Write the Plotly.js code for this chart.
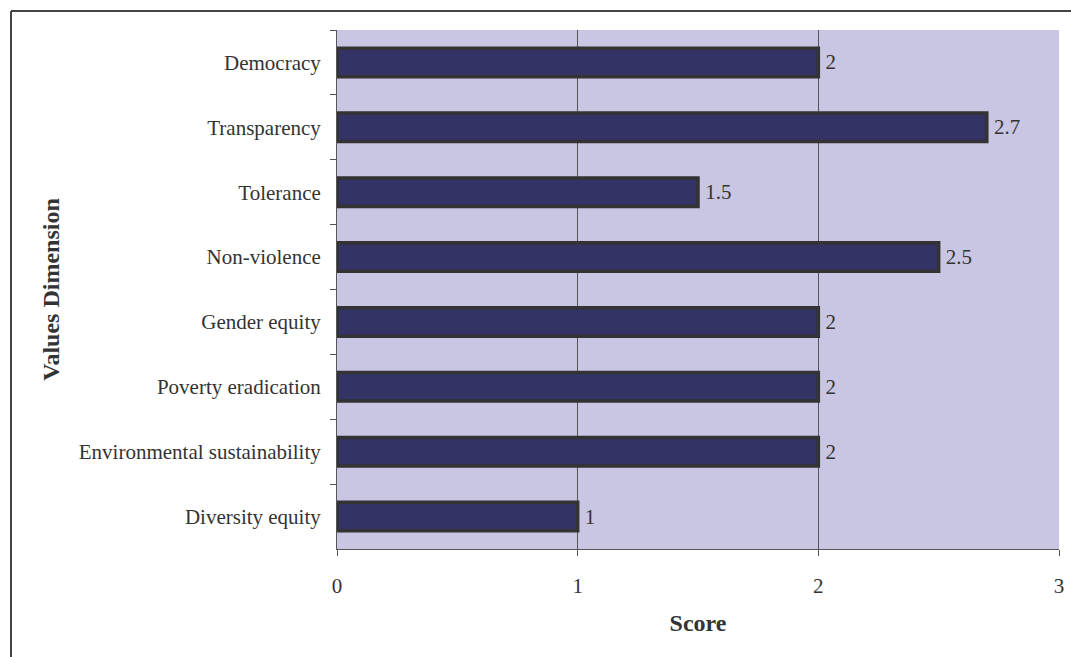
<!DOCTYPE html>
<html>
<head>
<meta charset="utf-8">
<script src="https://cdn.plot.ly/plotly-3.0.1.min.js"></script>
<style>
  html, body { margin: 0; padding: 0; background: #fff; }
  #chart { width: 1071px; height: 657px; }
</style>
</head>
<body>
<div id="chart"></div>
<script>
// Values dimension scores, listed top to bottom
const dimensions = [
  "Democracy",
  "Transparency",
  "Tolerance",
  "Non-violence",
  "Gender equity",
  "Poverty eradication",
  "Environmental sustainability",
  "Diversity equity"
];
const scores = [2, 2.7, 1.5, 2.5, 2, 2, 2, 1];
const xTicks = [0, 1, 2, 3];

const W = 1071, H = 657;
const margin = { l: 337, r: 12, t: 30, b: 108, pad: 0 };
const plotW = W - margin.l - margin.r;
const plotH = H - margin.t - margin.b;
// pixel -> paper helpers for the outer frame
const px = v => (v - margin.l) / plotW;
const py = v => 1 - (v - margin.t) / plotH;

const serif = "Liberation Serif, Times New Roman, serif";

const trace = {
  type: "bar",
  orientation: "h",
  y: dimensions,
  x: scores,
  // thin space keeps the value label a little off the bar end
  text: scores.map(v => "\u2009" + v),
  textposition: "outside",
  cliponaxis: false,
  textfont: { family: serif, size: 21, color: "#333333" },
  marker: { color: "#333366", line: { color: "#333333", width: 3.5 } },
  hoverinfo: "x+y"
};

const layout = {
  width: W,
  height: H,
  margin: margin,
  paper_bgcolor: "#ffffff",
  plot_bgcolor: "#C9C6E3",
  showlegend: false,
  bargap: 0.56,
  font: { family: serif, size: 21, color: "#333333" },
  xaxis: {
    range: [0, 3],
    tickvals: xTicks,
    ticktext: xTicks.map(String),
    ticks: "outside",
    ticklen: 6,
    tickcolor: "#555555",
    ticklabelstandoff: 12,
    showline: true,
    linecolor: "#555555",
    linewidth: 1,
    showgrid: true,
    gridcolor: "#555555",
    gridwidth: 1,
    zeroline: false,
    tickfont: { family: serif, size: 21, color: "#333333" },
    title: { text: "<b>Score</b>", font: { family: serif, size: 24, color: "#333333" }, standoff: 16 },
    fixedrange: true
  },
  yaxis: {
    type: "category",
    autorange: "reversed",
    categoryorder: "array",
    categoryarray: dimensions,
    tickson: "boundaries",
    ticks: "outside",
    ticklen: 6,
    tickcolor: "#555555",
    ticklabelstandoff: 11,
    showline: true,
    linecolor: "#555555",
    linewidth: 1,
    showgrid: false,
    zeroline: false,
    tickfont: { family: serif, size: 21, color: "#333333" },
    title: { text: "<b>Values Dimension</b>", font: { family: serif, size: 24, color: "#333333" }, standoff: 12 },
    fixedrange: true
  },
  shapes: [
    // outer chart frame (top and left edges)
    { type: "line", xref: "paper", yref: "paper", x0: px(11), x1: px(W + 5), y0: py(11), y1: py(11),
      line: { color: "#444444", width: 2 } },
    { type: "line", xref: "paper", yref: "paper", x0: px(11), x1: px(11), y0: py(11), y1: py(H + 5),
      line: { color: "#444444", width: 2 } }
  ]
};

Plotly.newPlot("chart", [trace], layout, { displayModeBar: false, staticPlot: true });
</script>
</body>
</html>
